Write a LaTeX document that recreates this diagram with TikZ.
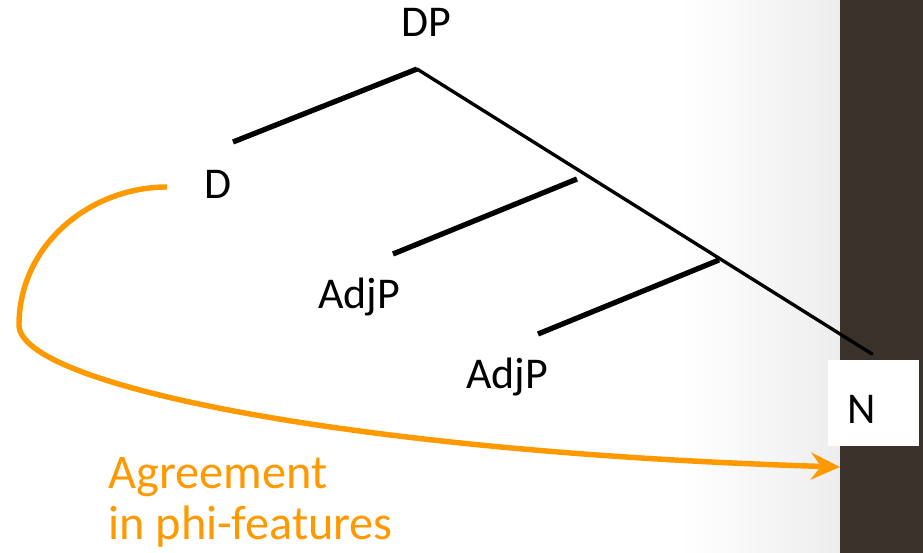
\documentclass[tikz,border=0pt]{standalone}
\usepackage{fontspec}
\setmainfont{Carlito}
\usetikzlibrary{arrows.meta}

\definecolor{agrorange}{RGB}{255,153,0}
\definecolor{sidebar}{RGB}{58,49,43}

\tikzset{
    cat/.style={anchor=base, inner sep=0pt, font=\fontsize{25}{29}\selectfont},
    branch/.style={line width=1.9pt, line cap=round},
    spec/.style={line width=3pt},
    agree/.style={draw=agrorange, line width=3.1pt, -{Stealth[length=0.58cm, width=0.54cm, inset=0.2cm]}}
}

\begin{document}
\begin{tikzpicture}[x=0.02cm, y=-0.02cm]
    \useasboundingbox (0,0) rectangle (923,553);
    % background and side bar
    \fill[white] (0,0) rectangle (923,553);
    \shade[left color=white, right color=black!7] (680,0) rectangle (840,553);
    \fill[sidebar] (840,0) rectangle (923,553);
    \fill[white] (828,360) rectangle (919,446);

    % Labels
    \node[cat] (dp) at (426,37) {DP};
    \node[cat] (d) at (218,199) {D};
    \node[cat] (adjpa) at (359,309) {AdjP};
    \node[cat] (adjpb) at (507,389) {AdjP};
    \node[cat] (n) at (862,424) {N};

    % Branch points
    \coordinate (top) at (417,69);
    \coordinate (dleft) at (233,142);
    \coordinate (mida) at (577,179);
    \coordinate (adjaleft) at (393,254);
    \coordinate (midb) at (719,260);
    \coordinate (adjbleft) at (538,334);
    \coordinate (nend) at (872,354);

    % Tree
    \draw[branch] (top) -- (nend);
    \draw[spec] (dleft) -- (top);
    \draw[spec] (adjaleft) -- (mida);
    \draw[spec] (adjbleft) -- (midb);

    % Agreement arrow
    \coordinate (agrstart) at (167,187);
    \coordinate (agrturn) at (19,325);
    \coordinate (agrend) at (840,467);
    \draw[agree] (agrstart) .. controls (90,187) and (19,245) .. (agrturn)
        .. controls (19,385) and (350,452) .. (agrend);
    \node[anchor=base west, inner sep=0pt, align=left, text=agrorange,
        font=\fontsize{27.5}{29.5}\selectfont] (agr) at (108,540) {Agreement\\in phi-features};
\end{tikzpicture}
\end{document}
